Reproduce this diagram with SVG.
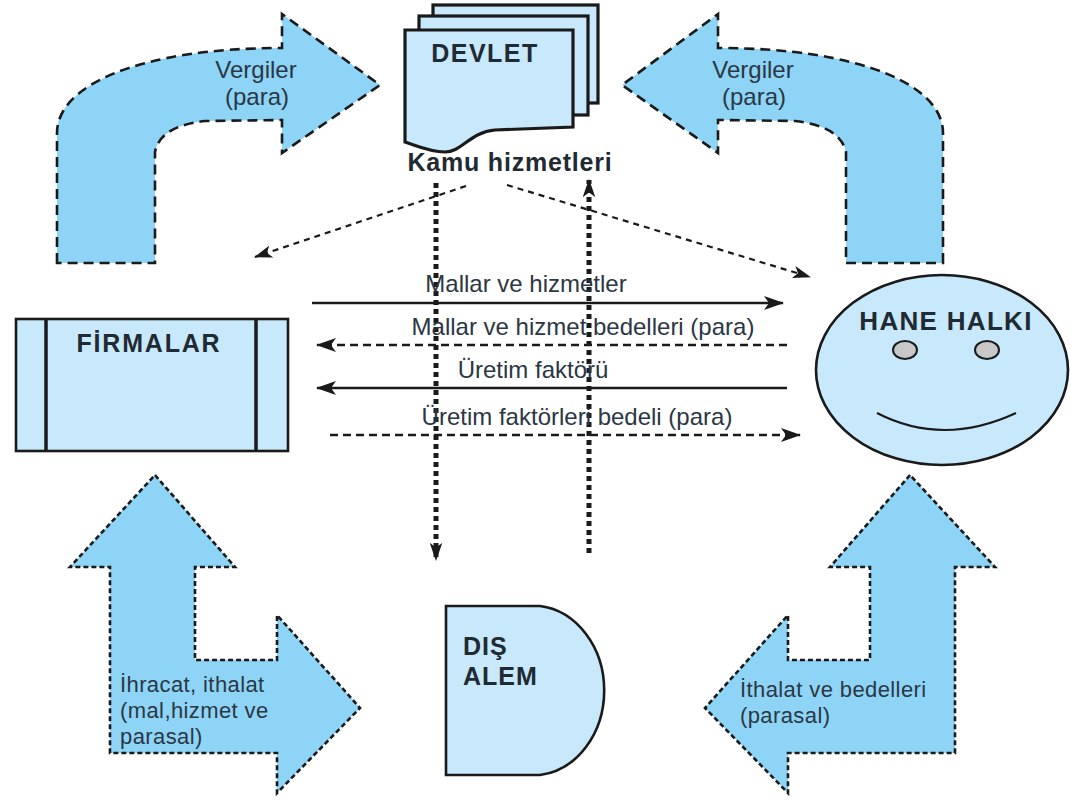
<svg xmlns="http://www.w3.org/2000/svg" width="1071" height="802" viewBox="0 0 1071 802">
<defs>
<style>
.big{fill:#8ed4f6;stroke:#1a1a1a;stroke-width:2.6;stroke-dasharray:10,6;stroke-linejoin:miter}
.big2{fill:#8ed4f6;stroke:#1a1a1a;stroke-width:2.6;stroke-dasharray:5,3;stroke-linejoin:miter}
.node{fill:#c8e8fb;stroke:#1a1a1a;stroke-width:2.6}
.sheet{fill:#c8e8fb;stroke:#1a1a1a;stroke-width:3.2}
.lbl{font-family:"Liberation Sans",Arial,sans-serif;font-size:24px;fill:#2b3744}
.lbs{font-family:"Liberation Sans",Arial,sans-serif;font-size:22px;fill:#2b3744;letter-spacing:0.4px}
.ttl{font-family:"Liberation Sans",Arial,sans-serif;font-size:25px;font-weight:bold;fill:#1f2a33;letter-spacing:1px}
.solid{stroke:#1a1a1a;stroke-width:2.6;fill:none}
.dash{stroke:#1a1a1a;stroke-width:2.6;stroke-dasharray:8,5;fill:none}
.diag{stroke:#1a1a1a;stroke-width:2.2;stroke-dasharray:6,5;fill:none}
.dot{stroke:#1a1a1a;stroke-width:5;stroke-dasharray:5,4;fill:none}
</style>
<marker id="ah" viewBox="0 0 20 14" refX="19" refY="7" markerWidth="20" markerHeight="14" markerUnits="userSpaceOnUse" orient="auto"><path d="M0,0 L20,7 L0,14 L5,7 Z" fill="#1a1a1a"/></marker>
<marker id="ahs" viewBox="0 0 20 14" refX="19" refY="7" markerWidth="18" markerHeight="13" markerUnits="userSpaceOnUse" orient="auto"><path d="M0,0 L20,7 L0,14 L5,7 Z" fill="#1a1a1a"/></marker>
</defs>

<g id="arrow-vergiler-left">
<path class="big" d="M57,263 L57,133 C57,85 140,48 282,48 L282,14 L380,85 L282,153 L282,120 L205,121 Q160,126 155,152 L155,263 Z"/>
<text class="lbl" x="256" y="78" text-anchor="middle">Vergiler</text>
<text class="lbl" x="257" y="105" text-anchor="middle">(para)</text>
</g>

<g id="arrow-vergiler-right">
<path class="big" d="M943,263 L943,133 C943,85 860,48 718,48 L718,14 L622,85 L718,153 L718,120 L795,121 Q840,126 846,152 L846,263 Z"/>
<text class="lbl" x="753" y="78" text-anchor="middle">Vergiler</text>
<text class="lbl" x="754" y="105" text-anchor="middle">(para)</text>
</g>

<g id="devlet">
<rect class="sheet" x="433" y="5" width="165" height="98"/>
<rect class="sheet" x="419" y="16" width="169" height="99"/>
<path class="sheet" d="M405,30 H573 V127 L495,130 C470,132 462,152 445,152 C430,152 417,146 405,142 Z"/>
<text class="ttl" x="485" y="62" text-anchor="middle" style="letter-spacing:1.5px">DEVLET</text>
<text class="ttl" x="510" y="171" text-anchor="middle" style="letter-spacing:0.8px">Kamu hizmetleri</text>
</g>

<g id="firmalar">
<rect class="node" x="16" y="319" width="272" height="132" stroke-width="3.5"/>
<line x1="46" y1="319" x2="46" y2="451" stroke="#1a1a1a" stroke-width="3.5"/>
<line x1="256" y1="319" x2="256" y2="451" stroke="#1a1a1a" stroke-width="3.5"/>
<text class="ttl" x="149" y="352" text-anchor="middle" style="letter-spacing:1.8px">FİRMALAR</text>
</g>

<g id="hane-halki">
<ellipse class="node" cx="942" cy="370" rx="126" ry="95"/>
<ellipse cx="905" cy="350" rx="12" ry="9" fill="#c8c8c8" stroke="#1a1a1a" stroke-width="2"/>
<ellipse cx="987" cy="350" rx="12" ry="9" fill="#c8c8c8" stroke="#1a1a1a" stroke-width="2"/>
<path d="M877,413 Q943,447 1016,413" fill="none" stroke="#1a1a1a" stroke-width="2"/>
<text class="ttl" x="946" y="330" text-anchor="middle" style="font-size:26px;letter-spacing:1.3px">HANE HALKI</text>
</g>

<g id="dis-alem">
<path class="node" d="M446,606 H540 A72,85 0 0 1 540,775 H446 Z"/>
<text class="ttl" x="463" y="655">DIŞ</text>
<text class="ttl" x="463" y="685">ALEM</text>
</g>

<g id="arrow-ihracat">
<path class="big2" d="M155,475 L235,567 L195,567 L195,660 L277,660 L277,615 L360,708 L277,793 L277,753 L110,753 L110,567 L70,567 Z"/>
<text class="lbs" x="120" y="692">İhracat, ithalat</text>
<text class="lbs" x="120" y="718">(mal,hizmet ve</text>
<text class="lbs" x="120" y="744">parasal)</text>
</g>

<g id="arrow-ithalat">
<path class="big2" d="M910,475 L830,567 L870,567 L870,660 L788,660 L788,615 L705,708 L788,793 L788,753 L955,753 L955,567 L995,567 Z"/>
<text class="lbs" x="740" y="697">İthalat ve bedelleri</text>
<text class="lbs" x="740" y="723">(parasal)</text>
</g>

<g id="connectors">
<line class="diag" x1="466" y1="186" x2="255" y2="257" marker-end="url(#ahs)"/>
<line class="diag" x1="507" y1="185" x2="810" y2="277" marker-end="url(#ahs)"/>
<line class="dot" x1="436" y1="183" x2="436" y2="560" marker-end="url(#ahs)"/>
<line class="dot" x1="589" y1="553" x2="589" y2="180" marker-end="url(#ahs)"/>
<line class="solid" x1="312" y1="303" x2="783" y2="303" marker-end="url(#ah)"/>
<line class="dash" x1="787" y1="345" x2="317" y2="345" marker-end="url(#ah)"/>
<line class="solid" x1="787" y1="388" x2="317" y2="388" marker-end="url(#ah)"/>
<line class="dash" x1="330" y1="435" x2="800" y2="435" marker-end="url(#ah)"/>
<text class="lbl" x="526" y="292" text-anchor="middle">Mallar ve hizmetler</text>
<text class="lbl" x="583" y="335" text-anchor="middle">Mallar ve hizmet bedelleri (para)</text>
<text class="lbl" x="533" y="378" text-anchor="middle">Üretim faktörü</text>
<text class="lbl" x="577" y="425" text-anchor="middle">Üretim faktörleri bedeli (para)</text>
</g>
</svg>
